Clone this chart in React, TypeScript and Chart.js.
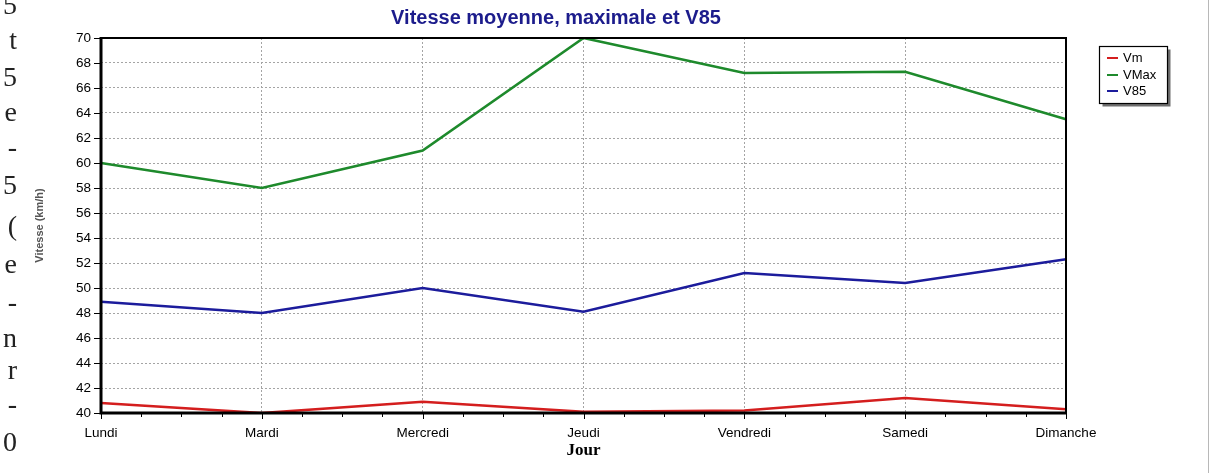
import React, { useEffect, useRef } from "react";
import { Chart, registerables } from "chart.js";

Chart.register(...registerables);

const days = ["Lundi", "Mardi", "Mercredi", "Jeudi", "Vendredi", "Samedi", "Dimanche"];
const vm = [40.8, 40.0, 40.9, 40.1, 40.2, 41.2, 40.3];
const vmax = [60.0, 58.0, 61.0, 70.0, 67.2, 67.3, 63.5];
const v85 = [48.9, 48.0, 50.0, 48.1, 51.2, 50.4, 52.3];
const seriesNames = ["Vm", "VMax", "V85"];
const seriesColors = ["#d41e1e", "#1e8a2c", "#1c1c9c"];
const chartTitle = "Vitesse moyenne, maximale et V85";
const xTitle = "Jour";
const yTitle = "Vitesse (km/h)";
const scanChars = ["5", "t", "5", "e", "-", "5", "(", "e", "-", "n", "r", "-", "0"];
const scanCharY = [5, 40, 77, 112, 147, 185, 226, 264, 302, 338, 370, 404, 442];

const framePlugin = {
  id: "framePlugin",
  afterDatasetsDraw(chart: any) {
    const { ctx, chartArea, scales } = chart;
    const { left, right, top, bottom } = chartArea;
    ctx.save();
    ctx.strokeStyle = "#000";
    ctx.lineWidth = 2;
    ctx.beginPath();
    ctx.moveTo(left, top);
    ctx.lineTo(right, top);
    ctx.lineTo(right, bottom);
    ctx.stroke();
    ctx.lineWidth = 3;
    ctx.beginPath();
    ctx.moveTo(left, top - 1);
    ctx.lineTo(left, bottom);
    ctx.lineTo(right + 1, bottom);
    ctx.stroke();
    ctx.lineWidth = 1;
    const y = scales.y;
    for (let v = 40; v <= 70; v += 2) {
      const py = Math.round(y.getPixelForValue(v)) + 0.5;
      ctx.beginPath();
      ctx.moveTo(left - 7, py);
      ctx.lineTo(left, py);
      ctx.stroke();
    }
    const x = scales.x;
    for (let i = 0; i < days.length; i++) {
      const px = x.getPixelForValue(i);
      ctx.beginPath();
      ctx.moveTo(Math.round(px) + 0.5, bottom);
      ctx.lineTo(Math.round(px) + 0.5, bottom + 6);
      ctx.stroke();
      if (i < days.length - 1) {
        const nx = x.getPixelForValue(i + 1);
        for (let k = 1; k < 4; k++) {
          const mx = Math.round(px + ((nx - px) * k) / 4) + 0.5;
          ctx.beginPath();
          ctx.moveTo(mx, bottom);
          ctx.lineTo(mx, bottom + 4);
          ctx.stroke();
        }
      }
    }
    ctx.restore();
  },
  afterDraw(chart: any) {
    const { ctx } = chart;
    ctx.save();
    // title
    ctx.font = "bold 20px 'Liberation Sans', Arial, sans-serif";
    ctx.fillStyle = "#1c1c8c";
    ctx.textAlign = "center";
    ctx.textBaseline = "middle";
    ctx.fillText(chartTitle, 556, 18);
    // legend
    const bx = 1099.5, by = 46.5, bw = 68, bh = 57;
    ctx.fillStyle = "#6e6e6e";
    ctx.fillRect(bx + 3, by + 3, bw, bh);
    ctx.fillStyle = "#fff";
    ctx.fillRect(bx, by, bw, bh);
    ctx.strokeStyle = "#000";
    ctx.lineWidth = 1.2;
    ctx.strokeRect(bx, by, bw, bh);
    const rows = [58, 75, 91];
    ctx.font = "13px 'Liberation Sans', Arial, sans-serif";
    ctx.textBaseline = "middle";
    ctx.textAlign = "left";
    chart.data.datasets.forEach((ds: any, i: number) => {
      ctx.strokeStyle = ds.borderColor;
      ctx.lineWidth = 2;
      ctx.beginPath();
      ctx.moveTo(1107, rows[i]);
      ctx.lineTo(1118, rows[i]);
      ctx.stroke();
      ctx.fillStyle = "#000";
      ctx.fillText(ds.label, 1123, rows[i] + 0.5);
    });
    ctx.restore();
  },
};

export default function App() {
  const canvasRef = useRef<HTMLCanvasElement | null>(null);

  useEffect(() => {
    if (!canvasRef.current) return;
    const seriesData = [vm, vmax, v85];
    const chart = new Chart(canvasRef.current, {
      type: "line",
      data: {
        labels: days,
        datasets: seriesNames.map((name, i) => ({
          label: name,
          data: seriesData[i],
          borderColor: seriesColors[i],
          backgroundColor: seriesColors[i],
          borderWidth: 2.6,
          pointRadius: 0,
          tension: 0,
          fill: false,
        })),
      },
      options: {
        animation: false,
        responsive: false,
        maintainAspectRatio: false,
        layout: { padding: { left: 0, right: 147, top: 38, bottom: 0 } },
        plugins: {
          legend: { display: false },
          tooltip: { enabled: false },
          title: { display: false },
        },
        scales: {
          x: {
            type: "category",
            offset: false,
            afterFit: (s: any) => {
              s.height = 60;
            },
            grid: { color: "#a4a4a4", lineWidth: 1, drawTicks: false, drawOnChartArea: true },
            border: { display: false, dash: [2, 2] },
            ticks: {
              color: "#000",
              padding: 12,
              maxRotation: 0,
              autoSkip: false,
              font: { family: "'Liberation Sans', Arial, sans-serif", size: 13.5 },
            },
            title: {
              display: true,
              text: xTitle,
              color: "#000",
              font: { family: "'Liberation Serif', 'Times New Roman', serif", size: 17, weight: "bold", lineHeight: 1.2 },
              padding: { top: 0, bottom: 12 },
            },
          },
          y: {
            min: 40,
            max: 70,
            afterFit: (s: any) => {
              s.width = 101;
            },
            grid: { color: "#a4a4a4", lineWidth: 1, drawTicks: false },
            border: { display: false, dash: [2, 2] },
            ticks: {
              stepSize: 2,
              color: "#000",
              padding: 10,
              font: { family: "'Liberation Sans', Arial, sans-serif", size: 13.5 },
            },
            title: {
              display: true,
              text: yTitle,
              color: "#555",
              font: { family: "'Liberation Sans', Arial, sans-serif", size: 11, weight: "bold", lineHeight: 1.2 },
              padding: { top: 33, bottom: 0 },
            },
          },
        },
      },
      plugins: [framePlugin],
    });
    return () => chart.destroy();
  }, []);

  return (
    <div
      style={{
        position: "absolute",
        left: 0,
        top: 0,
        width: 1213,
        height: 473,
        background: "#fff",
        overflow: "hidden",
      }}
    >
      <canvas ref={canvasRef} width={1213} height={473} style={{ position: "absolute", left: 0, top: 0 }} />
      {scanChars.map((c, i) => (
        <div
          key={i}
          style={{
            position: "absolute",
            right: 1196,
            top: scanCharY[i] - 16,
            fontFamily: "'Liberation Serif', 'Times New Roman', serif",
            fontSize: 28,
            lineHeight: "32px",
            color: "#222",
            whiteSpace: "nowrap",
          }}
        >
          {c}
        </div>
      ))}
      <div style={{ position: "absolute", left: 1208, top: 0, width: 1, height: 473, background: "#b8b8b8" }} />
    </div>
  );
}
